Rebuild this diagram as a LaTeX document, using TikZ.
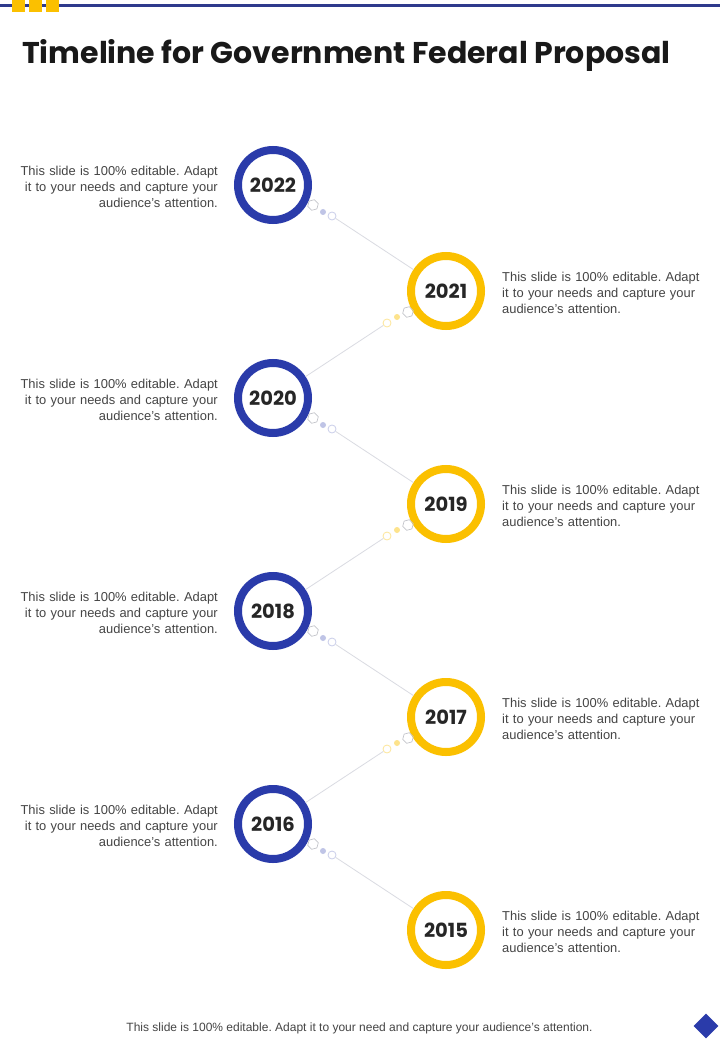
\documentclass[tikz,border=0pt]{standalone}
\usepackage{fontspec}
\setmainfont{Liberation Sans}
\newfontfamily\popfont{Poppins}
\usetikzlibrary{shapes.geometric}
\definecolor{myblue}{HTML}{2A3BAA}
\definecolor{myyellow}{HTML}{FBC000}
\definecolor{topline}{HTML}{2E3A8C}
\definecolor{bodygray}{HTML}{454545}
\definecolor{linegray}{HTML}{DADBE2}
\frenchspacing
\begin{document}
\begin{tikzpicture}[x=1pt,y=-1pt,
  ring/.style={circle,draw=#1,line width=8pt,minimum size=70pt,inner sep=0pt,font=\popfont\bfseries\fontsize{19.5}{21}\selectfont,text=black!85},
  desc/.style={font=\frenchspacing\fontsize{12.9}{16}\selectfont,text=bodygray,inner sep=0pt,text width=210pt},
  hexa/.style={regular polygon,regular polygon sides=6,draw=#1,minimum size=11pt,inner sep=0pt,line width=0.7pt},
  dotf/.style={circle,fill=#1,minimum size=6pt,inner sep=0pt},
  doto/.style={circle,draw=#1,minimum size=8pt,inner sep=0pt,line width=0.8pt},
  link/.style={draw=linegray,line width=0.8pt}]
\useasboundingbox (0,0) rectangle (720,1040);
\fill[white] (0,0) rectangle (720,1040);
% top bar
\fill[topline] (0,4.5) rectangle (720,7.5);
\foreach \x in {12,29,46} \fill[myyellow] (\x,0) rectangle (\x+13,12);
% title
\node[anchor=west,inner sep=0pt,font=\popfont\bfseries\fontsize{30}{32}\selectfont,text=black!90] (title) at (22,55) {Timeline for Government Federal Proposal};
% circles
\foreach \i/\yr/\cy in {1/2022/185,3/2020/398,5/2018/611,7/2016/824}{
  \node[ring=myblue] (c\i) at (273,\cy) {\yr};
  \node[desc,anchor=north east,align=right] (t\i) at (218,\cy-19) {This slide is 100\% editable. Adapt\\ it to your needs and capture your\\ audience's attention.};
  \node[hexa=linegray!90!black,rotate=15] (h\i) at (313,\cy+20) {};
  \node[dotf=myblue!30] (d\i) at (323,\cy+27) {};
  \node[doto=myblue!25] (o\i) at (332,\cy+31) {};
}
\foreach \i/\yr/\cy in {2/2021/291,4/2019/504,6/2017/717,8/2015/930}{
  \node[ring=myyellow] (c\i) at (446,\cy) {\yr};
  \node[desc,anchor=north west,align=left] (t\i) at (502,\cy-19) {This slide is 100\% editable. Adapt\\ it to your needs and capture your\\ audience's attention.};
}
\foreach \i/\cy in {2/291,4/504,6/717}{
  \node[hexa=linegray!90!black,rotate=15] (h\i) at (408,\cy+21) {};
  \node[dotf=myyellow!45] (d\i) at (397,\cy+26) {};
  \node[doto=myyellow!40] (o\i) at (387,\cy+32) {};
}
% links
\foreach \a/\b in {1/2,3/4,5/6,7/8} \path[link] (o\a) -- (c\b);
\foreach \a/\b in {2/3,4/5,6/7} \path[link] (o\a) -- (c\b);
% footer
\node[inner sep=0pt,font=\fontsize{12}{14}\selectfont,text=bodygray] (foot) at (359.5,1028) {This slide is 100\% editable. Adapt it to your need and capture your audience's attention.};
\node[diamond,fill=myblue,minimum size=25pt,inner sep=0pt] (dia) at (706,1026) {};
\end{tikzpicture}
\end{document}
